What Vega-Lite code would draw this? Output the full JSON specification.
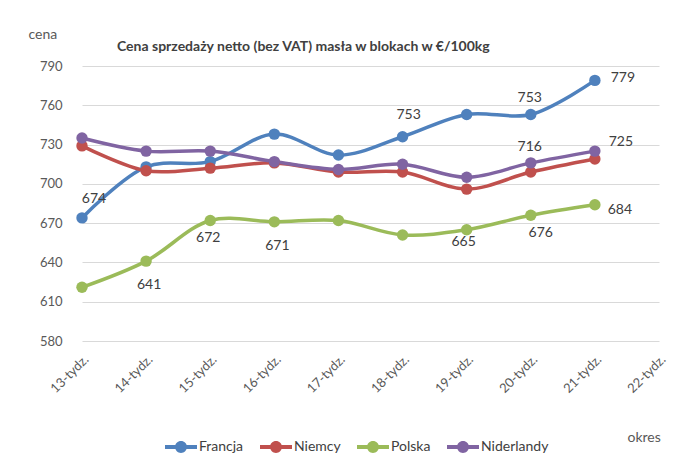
{
  "$schema": "https://vega.github.io/schema/vega-lite/v6.json",
  "width": 577,
  "height": 275,
  "autosize": {"type": "none"},
  "padding": {"left": 82, "top": 66, "right": 29, "bottom": 122},
  "background": "white",
  "config": {
    "font": "Lato",
    "view": {"stroke": null}
  },
  "title": {
    "text": "Cena sprzedaży netto (bez VAT) masła w blokach w €/100kg",
    "anchor": "start",
    "dx": 89,
    "dy": 41,
    "offset": 14,
    "fontSize": 14,
    "fontWeight": "bold",
    "color": "#404040",
    "font": "Lato"
  },
  "data": {
    "values": [
      {"week": "13-tydz.", "series": "Francja", "value": 674},
      {"week": "14-tydz.", "series": "Francja", "value": 713},
      {"week": "15-tydz.", "series": "Francja", "value": 717},
      {"week": "16-tydz.", "series": "Francja", "value": 738},
      {"week": "17-tydz.", "series": "Francja", "value": 722},
      {"week": "18-tydz.", "series": "Francja", "value": 736},
      {"week": "19-tydz.", "series": "Francja", "value": 753},
      {"week": "20-tydz.", "series": "Francja", "value": 753},
      {"week": "21-tydz.", "series": "Francja", "value": 779},
      {"week": "13-tydz.", "series": "Niemcy", "value": 729},
      {"week": "14-tydz.", "series": "Niemcy", "value": 710},
      {"week": "15-tydz.", "series": "Niemcy", "value": 712},
      {"week": "16-tydz.", "series": "Niemcy", "value": 716},
      {"week": "17-tydz.", "series": "Niemcy", "value": 709},
      {"week": "18-tydz.", "series": "Niemcy", "value": 709},
      {"week": "19-tydz.", "series": "Niemcy", "value": 696},
      {"week": "20-tydz.", "series": "Niemcy", "value": 709},
      {"week": "21-tydz.", "series": "Niemcy", "value": 719},
      {"week": "13-tydz.", "series": "Polska", "value": 621},
      {"week": "14-tydz.", "series": "Polska", "value": 641},
      {"week": "15-tydz.", "series": "Polska", "value": 672},
      {"week": "16-tydz.", "series": "Polska", "value": 671},
      {"week": "17-tydz.", "series": "Polska", "value": 672},
      {"week": "18-tydz.", "series": "Polska", "value": 661},
      {"week": "19-tydz.", "series": "Polska", "value": 665},
      {"week": "20-tydz.", "series": "Polska", "value": 676},
      {"week": "21-tydz.", "series": "Polska", "value": 684},
      {"week": "13-tydz.", "series": "Niderlandy", "value": 735},
      {"week": "14-tydz.", "series": "Niderlandy", "value": 725},
      {"week": "15-tydz.", "series": "Niderlandy", "value": 725},
      {"week": "16-tydz.", "series": "Niderlandy", "value": 717},
      {"week": "17-tydz.", "series": "Niderlandy", "value": 711},
      {"week": "18-tydz.", "series": "Niderlandy", "value": 715},
      {"week": "19-tydz.", "series": "Niderlandy", "value": 705},
      {"week": "20-tydz.", "series": "Niderlandy", "value": 716},
      {"week": "21-tydz.", "series": "Niderlandy", "value": 725}
    ]
  },
  "encoding": {
    "x": {
      "field": "week",
      "type": "ordinal",
      "scale": {
        "type": "point",
        "padding": 0,
        "domain": ["13-tydz.", "14-tydz.", "15-tydz.", "16-tydz.", "17-tydz.", "18-tydz.", "19-tydz.", "20-tydz.", "21-tydz.", "22-tydz."]
      },
      "axis": {
        "title": "okres",
        "titleFontSize": 14,
        "titleFontWeight": "normal",
        "titleColor": "#595959",
        "titleAlign": "left",
        "titleBaseline": "middle",
        "titleX": 545,
        "titleY": 96,
        "labelAngle": -45,
        "labelAlign": "right",
        "labelBaseline": "middle",
        "labelPadding": 16,
        "labelOffset": 4,
        "labelFontSize": 13,
        "labelColor": "#595959",
        "ticks": false,
        "domain": false,
        "grid": false
      }
    },
    "y": {
      "field": "value",
      "type": "quantitative",
      "scale": {"domain": [580, 790], "zero": false, "nice": false},
      "axis": {
        "title": "cena",
        "titleFontSize": 14,
        "titleFontWeight": "normal",
        "titleColor": "#595959",
        "titleAngle": 0,
        "titleAlign": "left",
        "titleBaseline": "middle",
        "titleX": -54,
        "titleY": -32,
        "values": [580, 610, 640, 670, 700, 730, 760, 790],
        "labelFontSize": 13,
        "labelColor": "#595959",
        "labelPadding": 20,
        "ticks": false,
        "domain": false,
        "gridColor": "#d9d9d9",
        "gridWidth": 1.2
      }
    }
  },
  "layer": [
    {
      "mark": {
        "type": "line",
        "interpolate": "catmull-rom",
        "strokeWidth": 3.5,
        "point": {"filled": true, "size": 130, "opacity": 1}
      },
      "encoding": {
        "color": {
          "field": "series",
          "type": "nominal",
          "sort": null,
          "scale": {
            "domain": ["Francja", "Niemcy", "Polska", "Niderlandy"],
            "range": ["#4F81BD", "#C0504D", "#9BBB59", "#8064A2"]
          },
          "legend": {
            "title": null,
            "orient": "none",
            "legendX": 83,
            "legendY": 365,
            "direction": "horizontal",
            "symbolType": "M-1,-0.12H-0.3V0.12H-1Z M0.3,-0.12H1V0.12H0.3Z M-0.37,0A0.37,0.37,0,1,1,0.37,0A0.37,0.37,0,1,1,-0.37,0Z",
            "symbolSize": 1024,
            "symbolStrokeWidth": 0,
            "labelFontSize": 14,
            "labelColor": "#404040",
            "labelOffset": 2,
            "columnPadding": 16,
            "encode": {
              "symbols": {
                "update": {
                  "fill": {"scale": "color", "field": "value"},
                  "fillOpacity": {"value": 1},
                  "strokeWidth": {"value": 0}
                }
              }
            }
          }
        }
      }
    },
    {
      "transform": [{"filter": "datum.series == 'Francja' && datum.week == '13-tydz.'"}],
      "mark": {"type": "text", "dx": 12, "dy": -19, "fontSize": 14, "color": "#404040"},
      "encoding": {"text": {"field": "value", "type": "quantitative", "format": "d"}}
    },
    {
      "transform": [{"filter": "datum.series == 'Francja' && datum.week == '19-tydz.'"}],
      "mark": {"type": "text", "dx": -58, "dy": 1, "fontSize": 14, "color": "#404040"},
      "encoding": {"text": {"field": "value", "type": "quantitative", "format": "d"}}
    },
    {
      "transform": [{"filter": "(datum.series == 'Francja' || datum.series == 'Niderlandy') && datum.week == '20-tydz.'"}],
      "mark": {"type": "text", "dx": -1, "dy": -16, "fontSize": 14, "color": "#404040"},
      "encoding": {"text": {"field": "value", "type": "quantitative", "format": "d"}}
    },
    {
      "transform": [{"filter": "datum.series == 'Francja' && datum.week == '21-tydz.'"}],
      "mark": {"type": "text", "dx": 28, "dy": -2, "fontSize": 14, "color": "#404040"},
      "encoding": {"text": {"field": "value", "type": "quantitative", "format": "d"}}
    },
    {
      "transform": [{"filter": "datum.series == 'Niderlandy' && datum.week == '21-tydz.'"}],
      "mark": {"type": "text", "dx": 26, "dy": -9, "fontSize": 14, "color": "#404040"},
      "encoding": {"text": {"field": "value", "type": "quantitative", "format": "d"}}
    },
    {
      "transform": [{"filter": "datum.series == 'Polska' && datum.week == '21-tydz.'"}],
      "mark": {"type": "text", "dx": 25, "dy": 5, "fontSize": 14, "color": "#404040"},
      "encoding": {"text": {"field": "value", "type": "quantitative", "format": "d"}}
    },
    {
      "transform": [{"filter": "datum.series == 'Polska' && (datum.week == '14-tydz.' || datum.week == '16-tydz.')"}],
      "mark": {"type": "text", "dx": 3, "dy": 24, "fontSize": 14, "color": "#404040"},
      "encoding": {"text": {"field": "value", "type": "quantitative", "format": "d"}}
    },
    {
      "transform": [{"filter": "datum.series == 'Polska' && datum.week == '15-tydz.'"}],
      "mark": {"type": "text", "dx": -2, "dy": 17, "fontSize": 14, "color": "#404040"},
      "encoding": {"text": {"field": "value", "type": "quantitative", "format": "d"}}
    },
    {
      "transform": [{"filter": "datum.series == 'Polska' && datum.week == '19-tydz.'"}],
      "mark": {"type": "text", "dx": -3, "dy": 12, "fontSize": 14, "color": "#404040"},
      "encoding": {"text": {"field": "value", "type": "quantitative", "format": "d"}}
    },
    {
      "transform": [{"filter": "datum.series == 'Polska' && datum.week == '20-tydz.'"}],
      "mark": {"type": "text", "dx": 10, "dy": 18, "fontSize": 14, "color": "#404040"},
      "encoding": {"text": {"field": "value", "type": "quantitative", "format": "d"}}
    }
  ]
}
